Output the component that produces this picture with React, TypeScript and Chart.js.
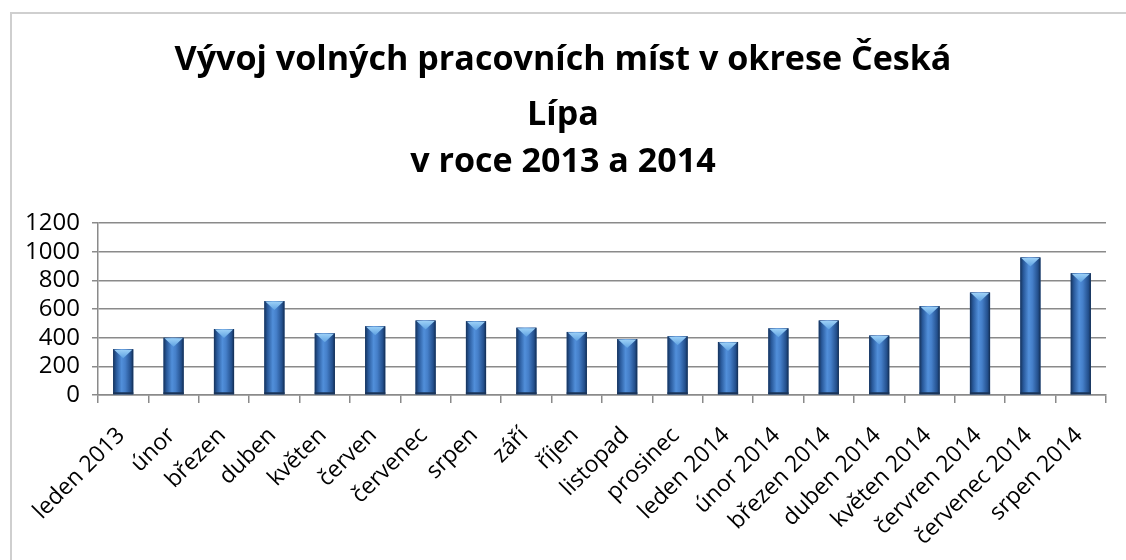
import { useEffect, useRef } from 'react';
import { Chart, registerables } from 'chart.js';

Chart.register(...registerables);

const W = 1126;
const H = 560;

const titleLines = ['Vývoj volných pracovních míst v okrese Česká', 'Lípa', 'v roce 2013 a 2014'];

const categories = [
  'leden 2013', 'únor', 'březen', 'duben', 'květen', 'červen', 'červenec', 'srpen', 'září', 'říjen',
  'listopad', 'prosinec', 'leden 2014', 'únor 2014', 'březen 2014', 'duben 2014', 'květen 2014',
  'červren 2014', 'červenec 2014', 'srpen 2014',
];

const values = [320, 400, 460, 655, 430, 480, 520, 515, 470, 440, 390, 410, 370, 465, 520, 415, 620, 715, 960, 850];

const yMin = 0;
const yMax = 1200;
const yStep = 200;

const FONT = '"Open Sans", "DejaVu Sans", sans-serif';

const bgPlugin = {
  id: 'bgBorder',
  beforeDraw(chart: any) {
    const ctx = chart.ctx;
    ctx.save();
    ctx.fillStyle = '#ffffff';
    ctx.fillRect(0, 0, chart.width, chart.height);
    ctx.strokeStyle = '#cfcfcf';
    ctx.lineWidth = 2;
    ctx.strokeRect(11, 13, chart.width + 40, chart.height + 40);
    ctx.restore();
  },
};

const titlePlugin = {
  id: 'multiTitle',
  afterDraw(chart: any) {
    const ctx = chart.ctx;
    ctx.save();
    ctx.font = `bold 32px ${FONT}`;
    const w = ctx.measureText(titleLines[0]).width;
    const size = Math.round((32 * 777) / w * 10) / 10;
    ctx.font = `bold ${size}px ${FONT}`;
    ctx.fillStyle = '#000000';
    ctx.textAlign = 'center';
    ctx.textBaseline = 'alphabetic';
    const baselines = [70, 125, 172];
    titleLines.forEach((t, i) => ctx.fillText(t, W / 2, baselines[i]));
    ctx.restore();
  },
};

const barDecor = {
  id: 'barDecor',
  afterDatasetsDraw(chart: any) {
    const ctx = chart.ctx;
    const meta = chart.getDatasetMeta(0);
    ctx.save();
    meta.data.forEach((el: any) => {
      const { x, y, base, width } = el.getProps(['x', 'y', 'base', 'width'], true);
      const l = x - width / 2;
      const g = ctx.createLinearGradient(l, 0, l + width, 0);
      g.addColorStop(0, '#15325a');
      g.addColorStop(0.15, '#285899');
      g.addColorStop(0.42, '#518fda');
      g.addColorStop(0.6, '#457fc9');
      g.addColorStop(0.88, '#234f8c');
      g.addColorStop(1, '#122c50');
      ctx.fillStyle = g;
      ctx.fillRect(l, y, width, base - y);
      const tg = ctx.createLinearGradient(0, y, 0, y + 9);
      tg.addColorStop(0, '#a0d3f8');
      tg.addColorStop(1, '#5fa2e2');
      ctx.fillStyle = tg;
      ctx.beginPath();
      ctx.moveTo(l + 1, y + 0.5);
      ctx.lineTo(l + width - 1, y + 0.5);
      ctx.lineTo(x, y + 9);
      ctx.closePath();
      ctx.fill();
      ctx.fillStyle = '#1a3458';
      ctx.fillRect(l, base - 2, width, 2);
    });
    ctx.restore();
  },
};

export default function App() {
  const ref = useRef<HTMLCanvasElement>(null);
  useEffect(() => {
    const chart = new Chart(ref.current as HTMLCanvasElement, {
      type: 'bar',
      data: {
        labels: categories,
        datasets: [
          {
            data: values,
            backgroundColor: '#3566a8',
            borderWidth: 0,
            categoryPercentage: 1,
            barPercentage: 0.4,
          },
        ],
      },
      options: {
        responsive: false,
        animation: false,
        devicePixelRatio: 1,
        layout: { padding: { left: 0, right: 20, top: 223, bottom: 0 } },
        plugins: {
          legend: { display: false },
          title: { display: false },
          tooltip: { enabled: false },
        },
        scales: {
          x: {
            grid: {
              offset: true,
              drawOnChartArea: false,
              drawTicks: true,
              tickLength: 8,
              color: '#8a8a8a',
              lineWidth: 1.5,
            },
            border: { display: true, color: '#8a8a8a', width: 1.5 },
            ticks: {
              autoSkip: false,
              maxRotation: 45,
              minRotation: 45,
              font: { family: FONT, size: 23 },
              color: '#000000',
              padding: 19,
              labelOffset: -2,
            },
            afterFit: (s: any) => {
              s.height = H - 395;
            },
          },
          y: {
            min: yMin,
            max: yMax,
            ticks: {
              stepSize: yStep,
              autoSkip: false,
              font: { family: FONT, size: 24 },
              color: '#000000',
              padding: 12,
              callback: (v: any) => String(v),
            },
            grid: { color: '#8a8a8a', lineWidth: 1.5, tickLength: 6 },
            border: { color: '#8a8a8a', width: 1.5 },
            afterFit: (s: any) => {
              s.width = 98;
            },
          },
        },
      },
      plugins: [bgPlugin, titlePlugin, barDecor],
    });
    return () => chart.destroy();
  }, []);
  return (
    <div style={{ position: 'fixed', left: 0, top: 0, width: W, height: H, background: '#fff' }}>
      <canvas ref={ref} width={W} height={H} style={{ width: W, height: H, display: 'block' }} />
    </div>
  );
}
